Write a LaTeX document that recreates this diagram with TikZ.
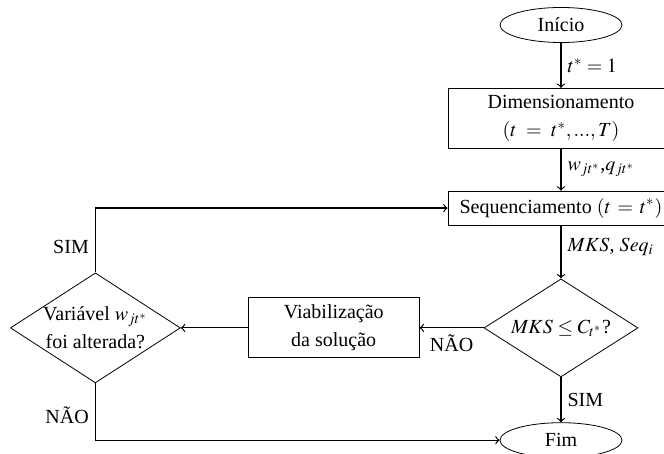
\documentclass[tikz,border=0pt]{standalone}
\usepackage{mathptmx}
\usepackage[no-math]{fontspec}
\setmainfont{Liberation Serif}
\usetikzlibrary{positioning, shapes.geometric}
\tikzset{
  terminal/.style={ellipse,draw,minimum width=61pt,minimum height=17.5pt,inner sep=1pt},
  box/.style={rectangle,draw,align=center,minimum width=113pt,inner sep=2pt},
  sidebox/.style={rectangle,draw,align=center,minimum width=85.5pt,minimum height=30pt,inner sep=2pt},
  decision/.style={diamond,draw,align=center,inner sep=0pt},
  line/.style={->,semithick},
  lbl/.style={inner sep=3pt}
}

\begin{document}
\begin{tikzpicture}[node distance=22.5pt]
\clip (-280.5pt,12.5pt) rectangle (51.5pt,-214.5pt);
\node[terminal] (inicio) {Início};
\node[box, minimum height=30pt, below=of inicio] (dim) {Dimensionamento\\[2pt] $(t~=~t^*, ..., T)$};
\node[box, minimum height=17pt, below=21pt of dim] (seq) {Sequenciamento $(t\,=\,t^*)$};
\node[decision, aspect=2, minimum width=77pt, minimum height=49pt, below=26.5pt of seq] (dec) {$MKS \leq C_{t^*}$?};
\node[terminal, below=of dec] (fim) {Fim};
\node[sidebox, left=32pt of dec] (viab) {Viabilização\\[2pt] da solução};
\node[decision, aspect=1.55, minimum width=85pt, minimum height=55pt, left=33.5pt of viab] (var) {Variável $w_{jt^*}$\\[2pt] foi alterada?};
\draw[line] (inicio) -- node[right, lbl] {$t^* = 1$} (dim);
\draw[line] (dim) -- node[right, lbl] {$w_{jt^*}$,$q_{jt^*}$} (seq);
\draw[line] (seq) -- node[right, lbl, pos=0.4] {$MKS$, $Seq_i$} (dec);
\draw[line] (dec) -- node[right, lbl] {SIM} (fim);
\draw[line] (dec) -- node[below, lbl] {NÃO} (viab);
\draw[line] (viab) -- (var);
\draw[line] (var.north) |- node[left, lbl, pos=0.2] {SIM} (seq.west);
\draw[line] (var.south) |- node[left, lbl, pos=0.28] {NÃO} (fim.west);
\end{tikzpicture}
\end{document}
